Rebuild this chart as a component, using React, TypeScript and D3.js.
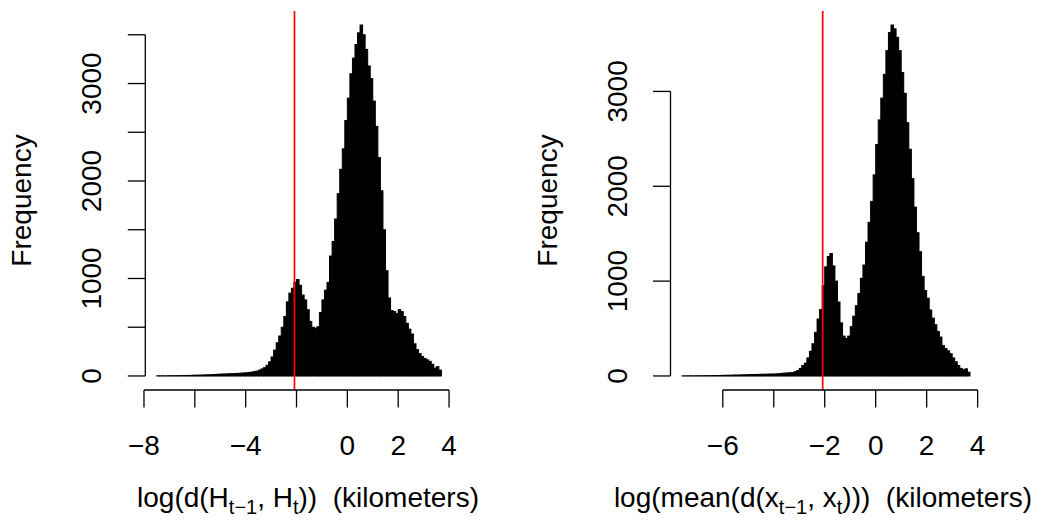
import React from "react";
import * as d3 from "d3";

const BIN_WIDTH = 0.1;

const leftFirstBreak = -7.5;
const leftCounts = [
  2, 1, 2, 1, 2, 3, 2, 3, 3, 4,
  4, 5, 5, 6, 7, 8, 8, 9, 10, 11,
  12, 13, 15, 16, 18, 19, 20, 21, 22, 23,
  24, 26, 27, 29, 31, 33, 36, 40, 45,
  50, 60, 72, 85, 110, 145, 195, 265, 340, 410,
  500, 610, 760, 850, 900, 960, 990, 930, 830, 780,
  680, 560, 500, 490, 505, 650, 780, 880, 960, 1230,
  1380, 1610, 1870, 2120, 2330, 2620, 2850, 3100, 3260, 3400,
  3520, 3600, 3500, 3350, 3180, 3050, 2820, 2560, 2240, 1900,
  1500, 1080, 800, 670, 660, 640, 680, 660, 610, 540,
  480, 430, 330, 270, 230, 200, 180, 165, 150, 120,
  80, 95, 60,
];

const rightFirstBreak = -7.6;
const rightCounts = [
  1, 1, 1, 2, 1, 2, 2, 2, 3, 3,
  3, 4, 4, 5, 5, 6, 6, 7, 8, 8,
  9, 10, 10, 11, 12, 13, 14, 15, 15, 16,
  17, 18, 18, 19, 20, 20, 21,
  22, 25, 28, 30, 32, 34, 36, 45, 58, 80,
  110, 135, 190, 260, 340, 460, 600, 700, 950, 1150,
  1260, 1290, 1160, 1000, 780, 560, 420, 395, 420, 520,
  630, 740, 870, 1030, 1170, 1410, 1620, 1840, 2120, 2440,
  2700, 2930, 3180, 3430, 3620, 3700, 3660, 3570, 3430, 3200,
  2980, 2670, 2390, 2080, 1780, 1510, 1310, 1050, 900, 820,
  695, 610, 540, 470, 410, 320, 290, 265, 235, 190,
  150, 110, 80, 65, 75, 40,
];

const leftXTicks = [-8, -6, -4, -2, 0, 2, 4];
const leftXLabels = [-8, -4, 0, 2, 4];
const rightXTicks = [-6, -4, -2, 0, 2, 4];
const rightXLabels = [-6, -2, 0, 2, 4];
const leftYTicks = [0, 500, 1000, 1500, 2000, 2500, 3000, 3500];
const rightYTicks = [0, 1000, 2000, 3000];
const yLabels = [0, 1000, 2000, 3000];

// log(1/8) km, the red reference line
const cutoff = -2.08;

const FONT = "'Liberation Sans', Arial, Helvetica, sans-serif";
const FS = 28;
const SUB = 20;
const PLOT_TOP = 11;
const PLOT_BOTTOM = 390;
const TICK = 17.5;

const fmt = d3.format("d");

function Histogram({ counts, firstBreak, left, width, xTicks, xLabels, yTicks, title, titleX }) {
  const hi = firstBreak + counts.length * BIN_WIDTH;
  const pad = 0.04 * (hi - firstBreak);
  const x = d3.scaleLinear().domain([firstBreak - pad, hi + pad]).range([left, left + width]);
  const maxC = d3.max(counts);
  const y = d3.scaleLinear().domain([-0.04 * maxC, 1.04 * maxC]).range([PLOT_BOTTOM, PLOT_TOP]);

  return (
    <g>
      {counts.map((c, i) => {
        const x0 = firstBreak + i * BIN_WIDTH;
        return (
          <rect key={i} x={x(x0)} width={x(x0 + BIN_WIDTH) - x(x0)} y={y(c)} height={y(0) - y(c)}
            fill="black" stroke="black" strokeWidth={1} />
        );
      })}
      <line x1={x(cutoff)} x2={x(cutoff)} y1={PLOT_TOP} y2={PLOT_BOTTOM} stroke="red" strokeWidth={1.7} />

      {/* x axis */}
      <g stroke="black" strokeWidth={1.3}>
        <line x1={x(xTicks[0])} x2={x(xTicks[xTicks.length - 1])} y1={PLOT_BOTTOM} y2={PLOT_BOTTOM} />
        {xTicks.map(t => <line key={t} x1={x(t)} x2={x(t)} y1={PLOT_BOTTOM} y2={PLOT_BOTTOM + TICK} />)}
      </g>
      {xLabels.map(t => (
        <text key={t} x={x(t)} y={455} textAnchor="middle" fontSize={FS}>{fmt(t)}</text>
      ))}

      {/* y axis */}
      <g stroke="black" strokeWidth={1.3}>
        <line x1={left} x2={left} y1={y(yTicks[0])} y2={y(yTicks[yTicks.length - 1])} />
        {yTicks.map(t => <line key={t} x1={left - TICK} x2={left} y1={y(t)} y2={y(t)} />)}
      </g>
      {yLabels.map(t => (
        <text key={t} transform={`translate(${left - 44},${y(t)}) rotate(-90)`} textAnchor="middle" fontSize={FS}>{fmt(t)}</text>
      ))}
      <text transform={`translate(${left - 114},${(PLOT_TOP + PLOT_BOTTOM) / 2}) rotate(-90)`} textAnchor="middle" fontSize={FS}>Frequency</text>

      <text x={titleX} y={507} textAnchor="middle" fontSize={FS} style={{ whiteSpace: "pre" }}>{title}</text>
    </g>
  );
}

export default function App() {
  return (
    <svg width={1052} height={525} style={{ position: "absolute", left: 0, top: 0, background: "white" }} fontFamily={FONT}>
      <Histogram counts={leftCounts} firstBreak={leftFirstBreak} left={145.3} width={307.5}
        xTicks={leftXTicks} xLabels={leftXLabels} yTicks={leftYTicks} titleX={308}
        title={<>log(d(H<tspan fontSize={SUB} dy={7}>t−1</tspan><tspan dy={-7}>, H</tspan><tspan fontSize={SUB} dy={7}>t</tspan><tspan dy={-7}>))  (kilometers)</tspan></>} />
      <Histogram counts={rightCounts} firstBreak={rightFirstBreak} left={670.5} width={311}
        xTicks={rightXTicks} xLabels={rightXLabels} yTicks={rightYTicks} titleX={823}
        title={<>log(mean(d(x<tspan fontSize={SUB} dy={7}>t−1</tspan><tspan dy={-7}>, x</tspan><tspan fontSize={SUB} dy={7}>t</tspan><tspan dy={-7}>)))  (kilometers)</tspan></>} />
    </svg>
  );
}
